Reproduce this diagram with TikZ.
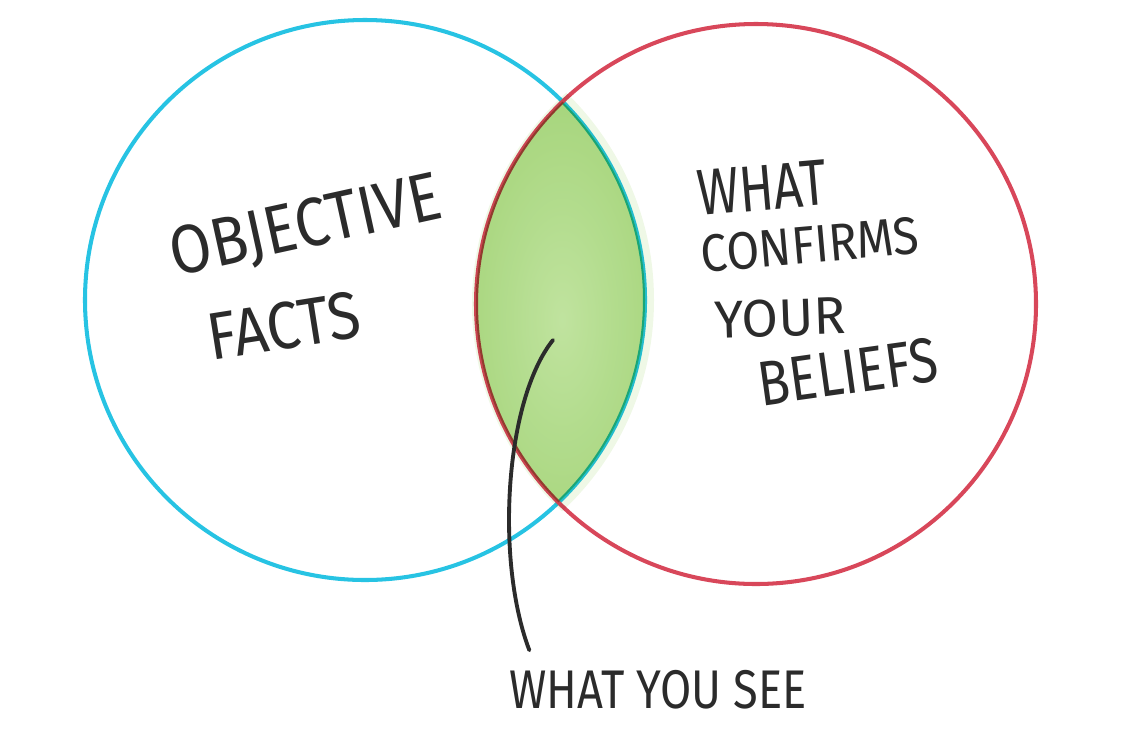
\documentclass[tikz,border=0pt]{standalone}
\usepackage{fontspec}
\newfontfamily\handfont{Fira Sans}
\usetikzlibrary{calc,positioning}
\definecolor{factline}{HTML}{27C3E3}
\definecolor{beliefline}{HTML}{D8475A}
\definecolor{seegreen}{HTML}{AEDA84}
\definecolor{seelight}{HTML}{CDEAB0}
\definecolor{pen}{HTML}{2B2B2B}
\tikzset{
  hand/.style={font=\handfont, text=pen, inner sep=0pt, transform shape},
  ring/.style={line width=2.3pt}
}
\newcommand{\handsize}[1]{\fontsize{#1}{#1}\selectfont}

\begin{document}
\begin{tikzpicture}[x=0.02cm, y=-0.02cm]
  \useasboundingbox (0,0) rectangle (1129,731);
  \pgfmathsetmacro{\rr}{280}
  \coordinate (facts) at (365,300);
  \coordinate (beliefs) at (756,304);
  % the two sets
  \draw[ring, factline] (facts) circle [radius=\rr];
  \draw[ring, beliefline] (beliefs) circle [radius=\rr];
  % overlap, soft halo first
  \begin{scope}[blend mode=multiply]
    \begin{scope}
      \clip (facts) circle [radius=\rr+9];
      \fill[seegreen, opacity=0.2] (beliefs) circle [radius=\rr+4];
    \end{scope}
    \begin{scope}
      \clip (facts) circle [radius=\rr];
      \clip (beliefs) circle [radius=\rr];
      \shade[inner color=seelight, outer color=seegreen] (562,320) ellipse [x radius=120, y radius=260];
    \end{scope}
  \end{scope}
  % labels
  \node[hand, rotate=12.4, xscale=0.88] (obj) at (306,228) {\handsize{39}OBJECTIVE};
  \node[hand, rotate=9, xscale=0.89] (fct) at (284,326) {\handsize{38}FACTS};
  \node[hand, rotate=5, xscale=0.78] (wht) at (762,188) {\handsize{37}WHAT};
  \node[hand, rotate=5, xscale=0.9] (cnf) at (810,245) {\handsize{30}CONFIRMS};
  \node[hand, rotate=2] (yr) at (780,318) {\handsize{30}YOUR};
  \node[hand, rotate=8, xscale=0.82] (blf) at (848,372) {\handsize{36}BELIEFS};
  \node[hand, xscale=0.83] (see) at (658,690) {\handsize{31}WHAT YOU SEE};
  % pointer into the overlap
  \coordinate (seetip) at (553,340);
  \coordinate (seeend) at ($(see.north west)+(20,-20)$);
  \draw[pen, line width=2.2pt, line cap=round] (seetip) .. controls (505,400) and (495,560) .. (seeend);
\end{tikzpicture}
\end{document}
